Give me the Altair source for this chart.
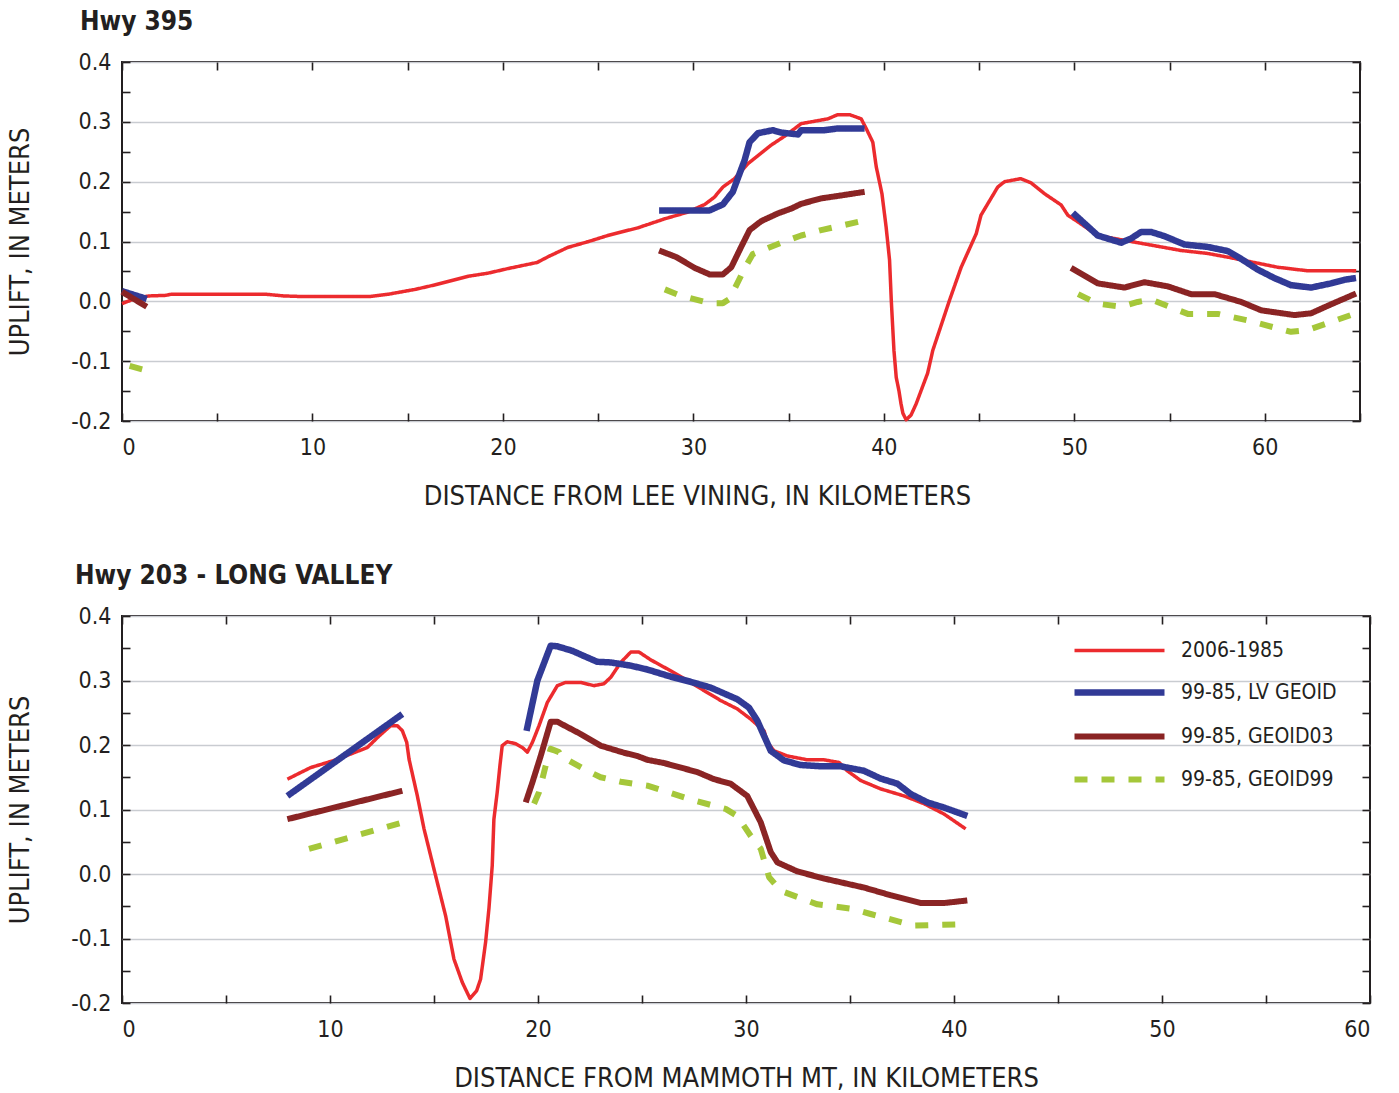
import altair as alt
import pandas as pd

FONT = "Liberation Sans Narrow, DejaVu Sans Condensed, Roboto Condensed, sans-serif"
INK = "#231F20"

SERIES = ["2006-1985", "99-85, LV GEOID", "99-85, GEOID03", "99-85, GEOID99"]
COLORS = ["#EC2B2E", "#313A96", "#8A2424", "#A5C73A"]
WIDTHS = [3.5, 6.5, 6, 6]
DASHES = [[1, 0], [1, 0], [1, 0], [13, 14]]

# ---------------- Hwy 395 (top panel) ----------------
TOP_RED_X = [0, 0.7, 1.4, 2.3, 2.6, 5, 7.5, 8.5, 9.5, 11, 13, 14, 15.4, 16.5, 18.2, 19.2,
             20.3, 21.8, 22.4, 23.4, 24.5, 25.5, 27.1, 28.5, 29.7, 30.6, 31.1, 31.55, 32.16,
             32.86, 34.08, 34.79, 35.66, 36.36, 37.06, 37.58, 38.2, 38.81, 39.07, 39.42, 39.6,
             39.9, 40.12, 40.3, 40.39, 40.53, 40.65, 40.79, 40.9, 41.0, 41.17, 41.43, 41.7,
             42.3, 42.57, 43.45, 44.06, 44.85, 45.1, 45.98, 46.34, 47.18, 47.73, 48.43, 49.31,
             49.66, 50.18, 51.23, 52.63, 54.03, 55.6, 57.0, 58.2, 59.28, 60.68, 62.26, 64.8]
TOP_RED_Y = [-0.004, 0.005, 0.009, 0.01, 0.012, 0.012, 0.012, 0.009, 0.008, 0.008, 0.008,
             0.012, 0.02, 0.028, 0.042, 0.047, 0.055, 0.065, 0.075, 0.09, 0.10, 0.11, 0.123,
             0.138, 0.149, 0.162, 0.174, 0.191, 0.205, 0.23, 0.261, 0.276, 0.297, 0.301, 0.305,
             0.312, 0.312, 0.305, 0.289, 0.266, 0.225, 0.18, 0.124, 0.069, 0.002, -0.082,
             -0.127, -0.149, -0.171, -0.187, -0.198, -0.19, -0.171, -0.12, -0.082, 0.002,
             0.057, 0.113, 0.144, 0.191, 0.2, 0.205, 0.198, 0.18, 0.161, 0.144, 0.133, 0.11,
             0.102, 0.094, 0.085, 0.08, 0.073, 0.066, 0.057, 0.051, 0.051]

TOP_BLUE_X = [[0, 1.3],
              [28.2, 30.85, 31.55, 32.07, 32.69, 32.95, 33.39, 34.17, 34.61, 35.49, 35.66,
               36.88, 37.59, 38.99],
              [49.92, 51.23, 52.46, 52.98, 53.51, 54.03, 54.73, 55.78, 57.0, 58.06, 58.76,
               59.63, 60.5, 61.38, 62.43, 63.48, 64.18, 64.79]]
TOP_BLUE_Y = [[0.017, 0.004],
              [0.152, 0.152, 0.162, 0.183, 0.236, 0.266, 0.281, 0.286, 0.282, 0.279, 0.286,
               0.286, 0.289, 0.289],
              [0.148, 0.11, 0.098, 0.105, 0.116, 0.116, 0.109, 0.095, 0.091, 0.084, 0.071,
               0.053, 0.039, 0.027, 0.023, 0.03, 0.036, 0.039]]

TOP_DRED_X = [[0, 1.3],
              [28.2, 29.1, 30.06, 30.85, 31.55, 31.99, 32.51, 32.95, 33.56, 34.44, 35.14,
               35.66, 36.71, 37.76, 38.99],
              [49.83, 51.23, 52.63, 53.68, 54.91, 56.13, 57.36, 58.76, 59.81, 61.56, 62.43,
               63.48, 64.79]]
TOP_DRED_Y = [[0.016, -0.009],
              [0.085, 0.074, 0.056, 0.045, 0.045, 0.057, 0.091, 0.119, 0.134, 0.147, 0.155,
               0.163, 0.172, 0.177, 0.183],
              [0.056, 0.03, 0.023, 0.032, 0.025, 0.012, 0.012, -0.001, -0.015, -0.023, -0.02,
               -0.005, 0.013]]

TOP_GREEN_X = [[0.4, 1.2],
               [28.5, 29.27, 30.85, 31.55, 31.9, 32.69, 33.12, 34.61, 35.66, 36.71, 38.81],
               [50.2, 51.23, 52.46, 53.33, 54.03, 55.96, 57.53, 59.11, 61.38, 62.26, 64.7]]
TOP_GREEN_Y = [[-0.108, -0.115],
               [0.02, 0.01, -0.003, -0.003, 0.004, 0.055, 0.079, 0.098, 0.11, 0.119, 0.134],
               [0.012, -0.004, -0.009, -0.001, 0.003, -0.021, -0.021, -0.032, -0.051, -0.048,
                -0.021]]

# ---------------- Hwy 203 - Long Valley (bottom panel) ----------------
BOT_RED_X = [7.95, 9.07, 10.19, 11.15, 11.79, 12.36, 12.92, 13.24, 13.48, 13.69, 13.8, 14.2,
             14.52, 15.08, 15.56, 15.96, 16.36, 16.73, 17.05, 17.24, 17.48, 17.64, 17.8, 17.88,
             18.04, 18.17, 18.28, 18.52, 18.93, 19.25, 19.49, 19.73, 20.05, 20.45, 20.93,
             21.33, 22.05, 22.69, 23.17, 23.5, 23.98, 24.46, 24.86, 25.42, 26.38, 27.34, 28.0,
             28.78, 29.58, 30.23, 30.87, 31.03, 31.35, 31.99, 32.95, 33.75, 34.47, 34.87,
             35.51, 36.47, 37.6, 38.56, 39.52, 40.56]
BOT_RED_Y = [0.147, 0.165, 0.176, 0.188, 0.196, 0.214, 0.23, 0.23, 0.222, 0.204, 0.178, 0.121,
             0.07, -0.003, -0.065, -0.132, -0.168, -0.193, -0.181, -0.163, -0.106, -0.054,
             0.013, 0.085, 0.127, 0.168, 0.199, 0.205, 0.202, 0.196, 0.189, 0.204, 0.23,
             0.266, 0.292, 0.297, 0.297, 0.292, 0.295, 0.305, 0.328, 0.344, 0.344, 0.332,
             0.315, 0.297, 0.284, 0.269, 0.256, 0.24, 0.222, 0.204, 0.191, 0.183, 0.177, 0.177,
             0.173, 0.16, 0.145, 0.132, 0.121, 0.109, 0.093, 0.07]

BOT_BLUE_X = [[7.95, 13.48],
              [19.45, 19.97, 20.61, 20.93, 21.65, 22.21, 22.85, 23.5, 24.46, 25.26, 26.38,
               27.34, 28.3, 29.58, 30.14, 30.54, 30.87, 31.19, 31.83, 32.63, 33.59, 34.55,
               35.67, 36.47, 37.28, 37.92, 38.72, 39.52, 40.64]]
BOT_BLUE_Y = [[0.121, 0.248],
              [0.222, 0.3, 0.354, 0.353, 0.346, 0.338, 0.329, 0.328, 0.323, 0.317, 0.306,
               0.298, 0.289, 0.271, 0.258, 0.238, 0.214, 0.191, 0.176, 0.169, 0.167, 0.167,
               0.16, 0.148, 0.14, 0.124, 0.111, 0.103, 0.09]]

BOT_DRED_X = [[7.95, 13.48],
              [19.41, 19.73, 20.13, 20.61, 20.93, 22.05, 23.01, 24.13, 24.77, 25.26, 26.06,
               27.66, 28.46, 29.26, 30.06, 30.71, 31.19, 31.51, 32.47, 33.75, 35.67, 36.96,
               38.4, 39.52, 40.64]]
BOT_DRED_Y = [[0.085, 0.129],
              [0.111, 0.142, 0.183, 0.236, 0.236, 0.217, 0.199, 0.188, 0.183, 0.177, 0.172,
               0.158, 0.147, 0.14, 0.121, 0.08, 0.034, 0.018, 0.004, -0.007, -0.021, -0.033,
               -0.045, -0.045, -0.041]]

BOT_GREEN_X = [[8.99, 13.4],
               [19.81, 20.05, 20.37, 20.61, 21.01, 21.09, 22.37, 23.01, 23.98, 25.26, 27.5,
                29.02, 29.58, 30.23, 30.71, 31.11, 31.67, 33.43, 35.11, 35.99, 38.08, 40.48]]
BOT_GREEN_Y = [[0.039, 0.079],
               [0.109, 0.127, 0.168, 0.194, 0.189, 0.183, 0.16, 0.15, 0.143, 0.137, 0.114,
                0.101, 0.09, 0.059, 0.039, -0.005, -0.026, -0.047, -0.054, -0.062, -0.08,
                -0.078]]

Y_LABELS = [-0.2, -0.1, 0.0, 0.1, 0.2, 0.3, 0.4]
Y_MINOR = [-0.2, -0.15, -0.1, -0.05, 0.0, 0.05, 0.1, 0.15, 0.2, 0.25, 0.3, 0.35, 0.4]
TOP_X_LABELS = [0, 10, 20, 30, 40, 50, 60]
TOP_X_MINOR = [0, 5, 10, 15, 20, 25, 30, 35, 40, 45, 50, 55, 60, 65]
BOT_X_LABELS = [0, 10, 20, 30, 40, 50, 60]
BOT_X_MINOR = [0, 5, 10, 15, 20, 25, 30, 35, 40, 45, 50, 55, 60]


def build(red, blues, dreds, greens):
    rows = []
    rows += [dict(series=SERIES[0], seg="r0", x=x, y=y) for x, y in zip(*red)]
    for name, key, (xs_list, ys_list) in [(SERIES[1], "b", blues), (SERIES[2], "d", dreds),
                                          (SERIES[3], "g", greens)]:
        for i, (xs, ys) in enumerate(zip(xs_list, ys_list)):
            rows += [dict(series=name, seg=f"{key}{i}", x=x, y=y) for x, y in zip(xs, ys)]
    return pd.DataFrame(rows)


top_df = build((TOP_RED_X, TOP_RED_Y), (TOP_BLUE_X, TOP_BLUE_Y), (TOP_DRED_X, TOP_DRED_Y),
               (TOP_GREEN_X, TOP_GREEN_Y))
bot_df = build((BOT_RED_X, BOT_RED_Y), (BOT_BLUE_X, BOT_BLUE_Y), (BOT_DRED_X, BOT_DRED_Y),
               (BOT_GREEN_X, BOT_GREEN_Y))

Y_EXPR = "(datum.value < 0 ? '-' : '') + format(abs(datum.value), '.1f')"


def panel(df, xdom, xlabels, xminor, xtitle, title, w, h, title_dx, legend, xtitle_x=None):
    xs = alt.Scale(domain=xdom, nice=False, zero=False)
    ys = alt.Scale(domain=[-0.2, 0.4], nice=False, zero=False)
    xaxis_kw = dict(orient="bottom", values=xlabels, format="d", ticks=False, tickSize=0,
                    domain=False, grid=False, title=xtitle, labelFontSize=23,
                    labelColor=INK, labelFont=FONT, labelPadding=15, titleFont=FONT,
                    titleFontSize=27, titleFontWeight="normal", titleColor=INK,
                    titlePadding=24)
    if xtitle_x is not None:
        xaxis_kw["titleX"] = xtitle_x
    main_x = alt.Axis(**xaxis_kw)
    main_y = alt.Axis(orient="left", values=Y_LABELS, labelExpr=Y_EXPR, ticks=False,
                      tickSize=0, domain=False, grid=True, gridColor="#C9CCD1", gridWidth=1.5,
                      title="UPLIFT, IN METERS", labelFontSize=23, labelColor=INK,
                      labelFont=FONT, labelPadding=11, titleFont=FONT, titleFontSize=27,
                      titleFontWeight="normal", titleColor=INK, titlePadding=36)
    if legend:
        leg = alt.Legend(orient="none", legendX=987, legendY=24, title=None,
                         symbolType="M-9,0H9", symbolSize=100, labelOffset=51,
                         labelFontSize=21, labelFont=FONT, labelColor=INK, rowPadding=18,
                         padding=0, symbolOpacity=1, labelLimit=400)
    else:
        leg = None
    lines = alt.Chart(df).mark_line(strokeCap="butt", strokeJoin="round").encode(
        x=alt.X("x:Q", scale=xs, axis=main_x),
        y=alt.Y("y:Q", scale=ys, axis=main_y),
        color=alt.Color("series:N", scale=alt.Scale(domain=SERIES, range=COLORS), legend=leg),
        strokeDash=alt.StrokeDash("series:N", scale=alt.Scale(domain=SERIES, range=DASHES),
                                  legend=leg),
        strokeWidth=alt.StrokeWidth("series:N",
                                    scale=alt.Scale(type="ordinal", domain=SERIES,
                                                    range=WIDTHS),
                                    legend=leg),
        detail="seg:N",
    )

    def tick_axis(orient, vals):
        return alt.Axis(orient=orient, values=vals, offset=-8, tickSize=8, ticks=True,
                        tickColor=INK, tickWidth=1.6, labels=False, domain=False, grid=False,
                        title=None)

    t1 = alt.Chart(df).mark_point(opacity=0).encode(
        x=alt.X("x:Q", scale=xs, axis=tick_axis("bottom", xminor)),
        y=alt.Y("y:Q", scale=ys, axis=tick_axis("left", Y_MINOR)),
    )
    t2 = alt.Chart(df).mark_point(opacity=0).encode(
        x=alt.X("x:Q", scale=xs, axis=tick_axis("top", xminor)),
        y=alt.Y("y:Q", scale=ys, axis=tick_axis("right", Y_MINOR)),
    )
    return alt.layer(lines, t1, t2).resolve_axis(x="independent", y="independent").properties(
        width=w, height=h,
        title=alt.TitleParams(title, anchor="start", frame="group", dx=title_dx, offset=16,
                              fontSize=26, fontWeight="bold", font=FONT, color=INK),
    )


top = panel(top_df, [0, 65], TOP_X_LABELS, TOP_X_MINOR,
            "DISTANCE FROM LEE VINING, IN KILOMETERS", "Hwy 395", 1238, 359, -42, False,
            xtitle_x=575)
bottom = panel(bot_df, [0, 60], BOT_X_LABELS, BOT_X_MINOR,
               "DISTANCE FROM MAMMOTH MT, IN KILOMETERS", "Hwy 203 - LONG VALLEY", 1248, 387,
               -47, True)

chart = alt.vconcat(top, bottom, spacing=52).resolve_scale(
    color="independent", strokeDash="independent", strokeWidth="independent"
).resolve_legend(
    color="independent", strokeDash="independent", strokeWidth="independent"
).configure(
    font=FONT, padding={"left": 5, "top": 8, "right": 5, "bottom": 0}
).configure_view(stroke=INK, strokeWidth=2)

chart.save("out.html", embed_options={"renderer": "svg", "actions": False})
